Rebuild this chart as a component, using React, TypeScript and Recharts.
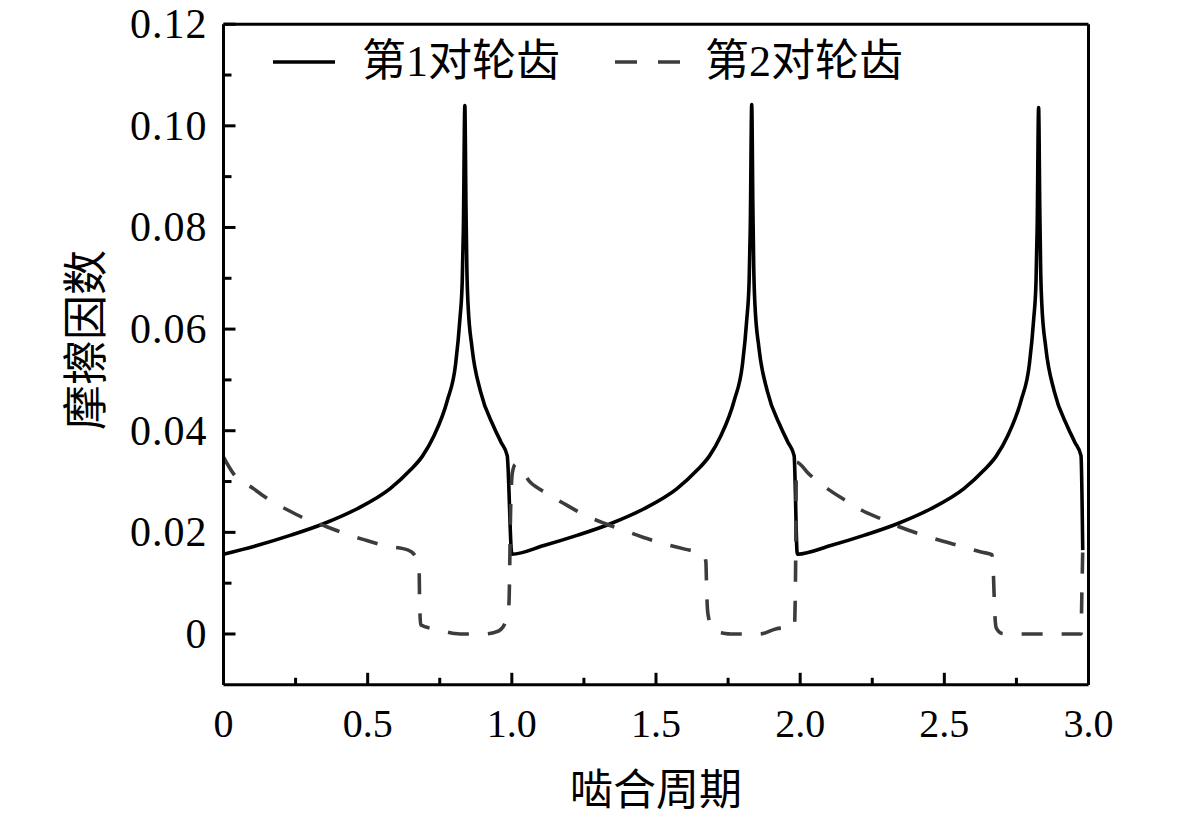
import React from "react";
import { LineChart, Line, XAxis, YAxis, ReferenceLine, Legend, Label } from "recharts";

const FONT_NUM = '"Liberation Serif", "Times New Roman", serif';
const FONT_CJK = '"Liberation Serif", "Noto Sans CJK SC", serif';

// 第1对轮齿 (solid), [meshing period, friction coefficient]
const pair1Points: [number, number][] = [
  [0, 0.0157], [0.116, 0.0174], [0.231, 0.0194], [0.347, 0.0217], [0.462, 0.0246],
  [0.578, 0.0286], [0.647, 0.0322], [0.69, 0.035], [0.73, 0.039], [0.776, 0.0459],
  [0.805, 0.0531], [0.82, 0.062], [0.828, 0.0694], [0.832, 0.08], [0.837, 0.104],
  [0.841, 0.084], [0.844, 0.072], [0.848, 0.065], [0.862, 0.0563], [0.891, 0.0478],
  [0.938, 0.0407], [0.962, 0.0378], [0.984, 0.0351],
  [1.0, 0.0157], [1.111, 0.0174], [1.226, 0.0194], [1.342, 0.0217], [1.457, 0.0246],
  [1.573, 0.0286], [1.642, 0.0322], [1.685, 0.035], [1.725, 0.039], [1.771, 0.0459],
  [1.8, 0.0531], [1.815, 0.062], [1.823, 0.0694], [1.827, 0.08], [1.832, 0.1042],
  [1.836, 0.084], [1.839, 0.072], [1.843, 0.065], [1.857, 0.0563], [1.886, 0.0478],
  [1.933, 0.0407], [1.957, 0.0378], [1.979, 0.0351],
  [1.99, 0.0157], [2.106, 0.0174], [2.221, 0.0194], [2.337, 0.0217], [2.452, 0.0246],
  [2.568, 0.0286], [2.637, 0.0322], [2.68, 0.035], [2.72, 0.039], [2.766, 0.0459],
  [2.795, 0.0531], [2.81, 0.062], [2.818, 0.0694], [2.822, 0.08], [2.827, 0.1036],
  [2.831, 0.084], [2.834, 0.072], [2.838, 0.065], [2.852, 0.0563], [2.881, 0.0478],
  [2.928, 0.0407], [2.952, 0.0378], [2.974, 0.0351], [2.98, 0.0165],
];

// 第2对轮齿 (dashed)
const pair2Points: [number, number][] = [
  [0, 0.0348], [0.035, 0.0315], [0.104, 0.0286], [0.162, 0.0263], [0.226, 0.0243],
  [0.295, 0.0224], [0.358, 0.0211], [0.428, 0.0196], [0.497, 0.0184], [0.566, 0.0173],
  [0.641, 0.0165], [0.678, 0.014], [0.68, 0.007], [0.684, 0.0018], [0.74, 0.0009],
  [0.8, 0.0001], [0.82, 0], [0.9, 0], [0.94, 0.0003], [0.962, 0.0009],
  [0.984, 0.0035], [0.99, 0.006], [0.996, 0.025], [1.002, 0.0318], [1.013, 0.0334],
  [1.065, 0.0298], [1.123, 0.0276], [1.192, 0.0253], [1.249, 0.0235], [1.32, 0.0218],
  [1.388, 0.0204], [1.457, 0.019], [1.526, 0.0178], [1.6, 0.0167], [1.665, 0.0157],
  [1.673, 0.0142], [1.676, 0.008], [1.68, 0.004], [1.698, 0.0008], [1.74, 0.0001],
  [1.76, 0], [1.86, 0], [1.915, 0.001], [1.98, 0.0014], [1.984, 0.012],
  [1.987, 0.0338], [2.03, 0.0315], [2.094, 0.0286], [2.157, 0.0263], [2.215, 0.0243],
  [2.284, 0.0226], [2.348, 0.021], [2.418, 0.0196], [2.487, 0.0184], [2.556, 0.0173],
  [2.631, 0.0161], [2.665, 0.0156], [2.67, 0.012], [2.675, 0.004], [2.68, 0.0012],
  [2.7, 0.0001], [2.72, 0], [2.974, 0], [2.977, 0.008], [2.98, 0.0165],
];

const seriesNames = ["第1对轮齿", "第2对轮齿"];

const xTicks = [0, 0.25, 0.5, 0.75, 1, 1.25, 1.5, 1.75, 2, 2.25, 2.5, 2.75, 3];
const xTickLabels = ["0", "", "0.5", "", "1.0", "", "1.5", "", "2.0", "", "2.5", "", "3.0"];
const yTicks = [0, 0.01, 0.02, 0.03, 0.04, 0.05, 0.06, 0.07, 0.08, 0.09, 0.1, 0.11, 0.12];
const yTickLabels = ["0", "", "0.02", "", "0.04", "", "0.06", "", "0.08", "", "0.10", "", "0.12"];

const pair1Data = pair1Points.map(([x, y]) => ({ x, y }));
const pair2Data = pair2Points.map(([x, y]) => ({ x, y }));

const DASH_COLOR = "#3c3c3c";

function XTick(props: any) {
  const { x, y, payload } = props;
  const label = xTickLabels[xTicks.indexOf(payload.value)] ?? "";
  const major = label !== "";
  return (
    <g>
      <line x1={x} x2={x} y1={y} y2={y - (major ? 12 : 7)} stroke="#000" strokeWidth={3} />
      {major && (
        <text x={x} y={y + 52} textAnchor="middle" fontSize={40} fontFamily={FONT_NUM} fill="#000">
          {label}
        </text>
      )}
    </g>
  );
}

function YTick(props: any) {
  const { x, y, payload } = props;
  const label = yTickLabels[yTicks.indexOf(payload.value)] ?? "";
  const major = label !== "";
  return (
    <g>
      <line x1={x} x2={x + (major ? 12 : 8)} y1={y} y2={y} stroke="#000" strokeWidth={3} />
      {major && (
        <text
          x={x - 16}
          y={y + 14}
          textAnchor="end"
          fontSize={42}
          letterSpacing={1}
          fontFamily={FONT_NUM}
          fill="#000"
        >
          {label}
        </text>
      )}
    </g>
  );
}

function LegendBox() {
  const textStyle: React.CSSProperties = {
    position: "absolute",
    top: 40,
    fontSize: 44,
    lineHeight: "44px",
    whiteSpace: "nowrap",
    fontFamily: FONT_CJK,
    color: "#000",
  };
  return (
    <div style={{ position: "relative", width: 1181, height: 0 }}>
      <svg style={{ position: "absolute", left: 273, top: 52 }} width={64} height={20}>
        <line x1={0} x2={62} y1={10} y2={10} stroke="#000" strokeWidth={3.6} />
      </svg>
      <span style={{ ...textStyle, left: 362 }}>{seriesNames[0]}</span>
      <svg style={{ position: "absolute", left: 615, top: 52 }} width={68} height={20}>
        <line x1={0} x2={65} y1={10} y2={10} stroke={DASH_COLOR} strokeWidth={3.6} strokeDasharray="22 21" />
      </svg>
      <span style={{ ...textStyle, left: 705 }}>{seriesNames[1]}</span>
    </div>
  );
}

export default function App() {
  return (
    <div style={{ width: 1181, height: 817, margin: "-8px 0 0 -8px", background: "#fff" }}>
      <LineChart width={1181} height={817} margin={{ top: 24.2, right: 92.5, bottom: 0, left: 0 }}>
        <XAxis
          dataKey="x"
          type="number"
          domain={[0, 3]}
          ticks={xTicks}
          interval={0}
          allowDataOverflow
          height={132.2}
          tickSize={0}
          tickMargin={0}
          tickLine={false}
          axisLine={{ stroke: "#000", strokeWidth: 3 }}
          tick={(p: any) => <XTick {...p} />}
        >
          <Label
            content={() => (
              <text x={656} y={805} textAnchor="middle" fontSize={43} fontFamily={FONT_CJK} fill="#000">
                啮合周期
              </text>
            )}
          />
        </XAxis>
        <YAxis
          type="number"
          domain={[-0.01, 0.12]}
          ticks={yTicks}
          interval={0}
          allowDataOverflow
          width={223.5}
          tickSize={0}
          tickMargin={0}
          tickLine={false}
          axisLine={{ stroke: "#000", strokeWidth: 3 }}
          tick={(p: any) => <YTick {...p} />}
        >
          <Label
            content={() => (
              <text
                x={87}
                y={340}
                transform="rotate(-90 87 340)"
                textAnchor="middle"
                dominantBaseline="central"
                fontSize={45}
                fontFamily={FONT_CJK}
                fill="#000"
              >
                摩擦因数
              </text>
            )}
          />
        </YAxis>
        <ReferenceLine y={0.12} stroke="#000" strokeWidth={3} />
        <ReferenceLine x={3} stroke="#000" strokeWidth={3} />
        <Legend
          layout="horizontal"
          verticalAlign="middle"
          align="center"
          wrapperStyle={{ top: 0, left: 0, width: 1181, height: 0 }}
          content={() => <LegendBox />}
        />
        <Line
          data={pair1Data}
          dataKey="y"
          name={seriesNames[0]}
          type="monotone"
          stroke="#000"
          strokeWidth={3.6}
          dot={false}
          activeDot={false}
          isAnimationActive={false}
        />
        <Line
          data={pair2Data}
          dataKey="y"
          name={seriesNames[1]}
          type="monotone"
          stroke={DASH_COLOR}
          strokeWidth={3.6}
          strokeDasharray="21 19"
          dot={false}
          activeDot={false}
          isAnimationActive={false}
        />
      </LineChart>
    </div>
  );
}
